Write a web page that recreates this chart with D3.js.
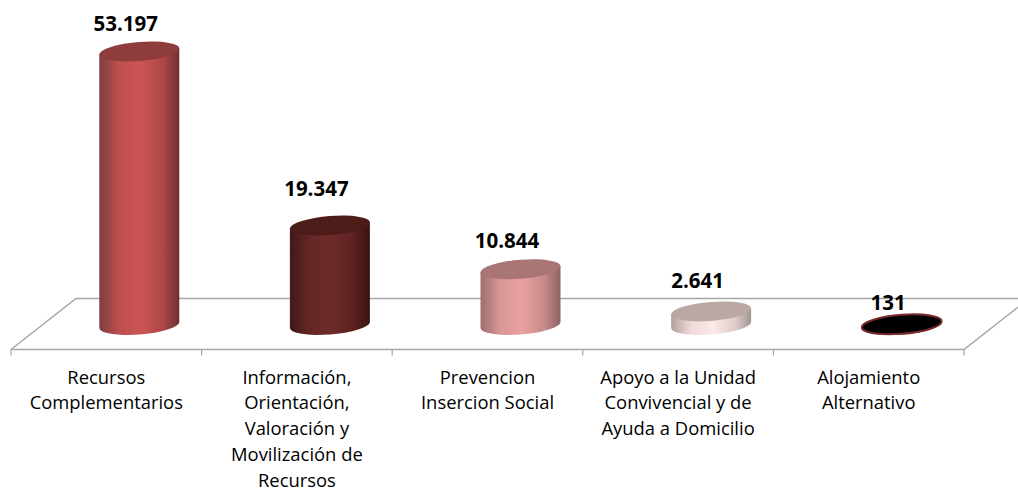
<!DOCTYPE html>
<html>
<head>
<meta charset="utf-8">
<script src="https://cdn.jsdelivr.net/npm/d3@7"></script>
<style>
  html, body { margin: 0; padding: 0; background: #fff; }
  text { font-family: "Open Sans", Lato, sans-serif; fill: #000; }
</style>
</head>
<body>
<div id="chart"></div>
<script>
// categories, one array of wrapped lines per bar
const categories = [
  ["Recursos", "Complementarios"],
  ["Información,", "Orientación,", "Valoración y", "Movilización de", "Recursos"],
  ["Prevencion", "Insercion Social"],
  ["Apoyo a la Unidad", "Convivencial y de", "Ayuda a Domicilio"],
  ["Alojamiento", "Alternativo"]
];
const values = [53197, 19347, 10844, 2641, 131];
const valueLabels = ["53.197", "19.347", "10.844", "2.641", "131"];

// colours: side edge left, side middle, side edge right, top
const sideLeft = ["#7f3d3d", "#3f1a18", "#a06e6e", "#b3a09e", "#3a1412"];
const sideMid = ["#cd5454", "#6e2a2a", "#e9a0a0", "#fde9e7", "#6e2a2a"];
const sideRight = ["#6f3030", "#38130f", "#8b6262", "#a39593", "#38130f"];
const topFill = ["#8f3c3c", "#4c1c19", "#a97575", "#bba7a4", "#000000"];

const W = 1018, H = 490;
const floorLeft = 11, floorRight = 964, floorFront = 349.5, floorBack = 298.5;
const depthX = 65;   // how far the back edge of the floor is shifted right
const barShift = 33; // bars stand half way back on the floor
const baseY = 325;
const rx = 40, ry = 9.5, skew = -0.075;

const svg = d3.select("#chart").append("svg")
  .attr("width", W)
  .attr("height", H)
  .style("display", "block");

const x = d3.scaleBand()
  .domain(categories.map((d, i) => i))
  .range([floorLeft, floorRight]);

const y = d3.scaleLinear()
  .domain([0, 53197])
  .range([baseY, 51.5]);

// gradientes dos cilindros
const defs = svg.append("defs");
values.forEach((v, i) => {
  const g = defs.append("linearGradient").attr("id", "side" + i);
  g.append("stop").attr("offset", "0%").attr("stop-color", sideLeft[i]);
  g.append("stop").attr("offset", "25%").attr("stop-color", d3.interpolateRgb(sideLeft[i], sideMid[i])(0.8));
  g.append("stop").attr("offset", "52%").attr("stop-color", sideMid[i]);
  g.append("stop").attr("offset", "80%").attr("stop-color", d3.interpolateRgb(sideMid[i], sideRight[i])(0.35));
  g.append("stop").attr("offset", "100%").attr("stop-color", sideRight[i]);
});

// chao
const floorColor = "#a6a6a6";
svg.append("path")
  .attr("d", `M${floorLeft},${floorFront}L${floorLeft + depthX},${floorBack}L${W},${floorBack}`)
  .attr("fill", "none")
  .attr("stroke", floorColor)
  .attr("stroke-width", 1.5);
svg.append("path")
  .attr("d", `M${floorLeft},${floorFront}L${floorRight},${floorFront}L${floorRight + depthX},${floorBack}`)
  .attr("fill", "none")
  .attr("stroke", floorColor)
  .attr("stroke-width", 1.5);

// marcas nas bordas das categorias
svg.selectAll(".edge")
  .data(d3.range(categories.length + 1))
  .join("line")
  .attr("class", "edge")
  .attr("x1", d => floorLeft + d * x.step())
  .attr("x2", d => floorLeft + d * x.step())
  .attr("y1", floorFront)
  .attr("y2", floorFront + 6)
  .attr("stroke", floorColor)
  .attr("stroke-width", 1.2);

// cilindros
const bars = svg.selectAll(".bar")
  .data(values)
  .join("g")
  .attr("class", "bar")
  .attr("transform", (d, i) => `matrix(1,${skew},0,1,${x(i) + x.bandwidth() / 2 + barShift},0)`);

bars.append("path")
  .attr("d", d => `M${-rx},${y(d)}L${rx},${y(d)}L${rx},${baseY}A${rx},${ry} 0 0 1 ${-rx},${baseY}Z`)
  .attr("fill", (d, i) => `url(#side${i})`);

bars.append("ellipse")
  .attr("cx", 0)
  .attr("cy", d => y(d))
  .attr("rx", rx)
  .attr("ry", ry)
  .attr("fill", (d, i) => topFill[i])
  .attr("stroke", (d, i) => i === 4 ? "#7a2a2a" : "none")
  .attr("stroke-width", 2);

// rotulos de valor
const labelY = [30.5, 195.5, 247.5, 287.5, 310];
svg.selectAll(".val")
  .data(valueLabels)
  .join("text")
  .attr("class", "val")
  .attr("x", (d, i) => x(i) + x.bandwidth() / 2 + barShift - 13.5)
  .attr("y", (d, i) => labelY[i])
  .attr("text-anchor", "middle")
  .attr("font-size", 20.5)
  .attr("font-weight", 700)
  .text(d => d);

// categorias
const cat = svg.selectAll(".cat")
  .data(categories)
  .join("text")
  .attr("class", "cat")
  .attr("text-anchor", "middle")
  .attr("font-size", 18.4);

cat.selectAll("tspan")
  .data((d, i) => d.map((t, k) => ({t, k, i})))
  .join("tspan")
  .attr("x", d => x(d.i) + x.bandwidth() / 2)
  .attr("y", d => 383.5 + d.k * 25.8)
  .text(d => d.t);
</script>
</body>
</html>
